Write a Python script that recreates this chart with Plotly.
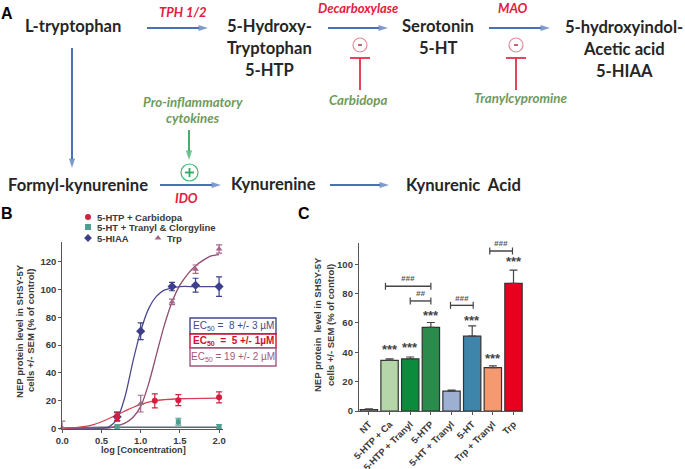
import plotly.graph_objects as go

W, H = 685, 469
BLUE_ARROW = "#4a70b5"
INK = "#2a2a2a"
AXC = "#555555"
LBL = "#3a3a3a"

# ---------- Panel B data ----------
hiaa_fit_x = [0, 0.5, 0.6, 0.7, 0.8, 0.9, 1.0, 1.1, 1.2, 1.3, 1.4, 1.5, 1.7, 2.0]
hiaa_fit_y = [0, 0.3, 1.5, 7, 23, 48, 70, 86, 95, 99.5, 101, 102, 102, 102]
trp_fit_x = [0, 0.6, 0.7, 0.8, 0.9, 1.0, 1.1, 1.2, 1.3, 1.4, 1.5, 1.6, 1.7, 1.8, 1.9, 2.0]
trp_fit_y = [0, 0.5, 2, 4, 8, 16, 32, 53, 74, 91, 103, 111, 117, 121, 124, 125]
carb_fit_x = [0, 0.2, 0.4, 0.5, 0.7, 0.85, 1.0, 1.18, 1.3, 1.48, 2.0]
carb_fit_y = [0, 1, 3, 5, 10, 14, 17.5, 20, 20.8, 21.5, 22]
ht_fit_x = [0, 0.5, 1.0, 1.5, 2.0]
ht_fit_y = [0.5, 1, 1, 1, 1]

hiaa_x = [0.7, 1.0, 1.4, 1.7, 2.0]
hiaa_y = [8.5, 70, 102, 103, 102]
hiaa_e = [3, 6, 3, 5, 7]
trp_x = [0, 0.7, 1.0, 1.4, 1.7, 2.0]
trp_y = [0.5, 9, 18, 91, 114.5, 129]
trp_e = [5, 3, 6, 2, 3, 3]
carb_x = [0.7, 1.18, 1.48, 2.0]
carb_y = [9, 20, 20.5, 22.5]
carb_e = [3, 5, 4, 4]
ht_x = [0.7, 1.48, 2.0]
ht_y = [1.5, 5, 1.5]
ht_e = [1, 2.5, 1.5]

# ---------- Panel C data ----------
cats = ["NT", "5-HTP + Ca", "5-HTP + Tranyl", "5-HTP", "5-HT + Tranyl", "5-HT", "Trp + Tranyl", "Trp"]
vals = [1, 34.5, 35.5, 57, 13.5, 51, 29.5, 87]
errs = [0.5, 1, 1.3, 3.3, 0.7, 7, 1.2, 9]
bar_cols = ["#ffffff", "#b4d6a8", "#0b8c3c", "#2b8b4c", "#9db0d2", "#3f85aa", "#f59a70", "#e8001f"]
star_idx = [1, 2, 3, 5, 6, 7]
star_y = [42, 43, 65, 62, 36, 102]
brackets = [(0.8, 3, 85, "###", 90), (2, 3, 75, "##", 80), (3.95, 5.05, 72, "###", 77), (5.85, 6.95, 109, "###", 114)]

# ---------- Panel A text ----------
nodes = [("L-tryptophan", 73, 26), ("5-Hydroxy-", 269, 26), ("Tryptophan", 269, 48), ("5-HTP", 269, 70),
         ("Serotonin", 438, 26), ("5-HT", 438, 48), ("5-hydroxyindol-", 624, 27), ("Acetic acid", 624, 49),
         ("5-HIAA", 624, 71), ("Formyl-kynurenine", 78, 185), ("Kynurenine", 273, 184), ("Kynurenic  Acid", 463, 185)]
enzymes = [("TPH 1/2", 183, 12), ("Decarboxylase", 358, 8), ("MAO", 513, 8), ("IDO", 186, 198)]
greens = [("Pro-inflammatory", 193, 102), ("cytokines", 193, 118), ("Carbidopa", 358, 100), ("Tranylcypromine", 521, 98)]
arrows = [(147, 28, 208, 28), (328, 28, 388, 28), (489, 28, 550, 28), (72, 48, 72, 168), (160, 185, 221, 185), (330, 185, 389, 185)]
inhibitors = [(360, 45), (516, 45)]

fig = go.Figure()
SANS = "Liberation Sans"


def fit(x, y, c, w=1.3):
    fig.add_trace(go.Scatter(x=x, y=y, mode="lines", line=dict(color=c, width=w, shape="spline", smoothing=0.8),
                             xaxis="x", yaxis="y", showlegend=False, hoverinfo="skip", cliponaxis=False))


def pts(x, y, e, c, sym, s=7):
    fig.add_trace(go.Scatter(x=x, y=y, mode="markers", marker=dict(color=c, size=s, symbol=sym),
                             error_y=dict(type="data", array=e, color=c, thickness=1.2, width=3),
                             xaxis="x", yaxis="y", showlegend=False, cliponaxis=False))


C_HIAA, C_TRP, C_CARB, C_HT = "#3d3f8c", "#a5668a", "#d0203f", "#4f9f90"
fit(ht_fit_x, ht_fit_y, "#5a6a70", 1.5)
fit(trp_fit_x, trp_fit_y, "#8f4a70")
fit(hiaa_fit_x, hiaa_fit_y, "#4d4a8c")
fit(carb_fit_x, carb_fit_y, "#d8404f")
pts(trp_x, trp_y, trp_e, C_TRP, "triangle-up", 6)
pts(ht_x, ht_y, ht_e, C_HT, "square", 5)
pts(hiaa_x, hiaa_y, hiaa_e, C_HIAA, "diamond", 7)
pts(carb_x, carb_y, carb_e, C_CARB, "circle", 6)

# Panel C
fig.add_trace(go.Bar(x=list(range(len(cats))), y=vals, width=0.84, marker=dict(color=bar_cols, line=dict(color="#333333", width=1.2)),
                     error_y=dict(type="data", array=errs, symmetric=False, arrayminus=[0] * 8, color="#444444", thickness=1.2, width=4),
                     xaxis="x2", yaxis="y2", showlegend=False))
for a, b, y, t, ty in brackets:
    fig.add_trace(go.Scatter(x=[a, b], y=[y, y], mode="lines+markers", line=dict(color="#444444", width=1.4),
                             marker=dict(symbol="line-ns", size=5, line=dict(color="#444444", width=1.2)),
                             xaxis="x2", yaxis="y2", showlegend=False))

ann = []


def T(text, x, y, size, color=INK, bold=True, italic=False, angle=0, family=SANS, xanchor="center"):
    s = text
    if bold:
        s = "<b>" + s + "</b>"
    if italic:
        s = "<i>" + s + "</i>"
    ann.append(dict(text=s, x=x, y=y, xref="x3", yref="y3", showarrow=False, xanchor=xanchor, yanchor="middle",
                    textangle=angle, font=dict(size=size, color=color, family=family)))


def flow(x0, y0, x1, y1, c, w=2):
    fig.add_trace(go.Scatter(x=[x0, x1], y=[y0, y1], mode="lines+markers", line=dict(color=c, width=w),
                             marker=dict(symbol="arrow", angleref="previous", size=[0, 10], color=c, line=dict(width=0)),
                             xaxis="x3", yaxis="y3", showlegend=False, hoverinfo="skip"))


for t, x, y in nodes:
    T(t, x, y, 16.6, color="#262626", family="Lato")
for t, x, y in enzymes:
    T(t, x, y, 13, color="#e0203c", italic=True, family="Lato")
for t, x, y in greens:
    T(t, x, y, 13.3, color="#6f9a5a", italic=True, family="Lato")
for x0, y0, x1, y1 in arrows:
    flow(x0, y0, x1, y1, BLUE_ARROW)
flow(189, 130, 189, 160, "#2fa860", 1.8)

shapes = []
RED = "#e0304a"
for cx, cy in inhibitors:
    shapes.append(dict(type="circle", xref="x3", yref="y3", x0=cx - 7, x1=cx + 7, y0=cy - 7, y1=cy + 7, line=dict(color="#e58a9a", width=1.2)))
    shapes.append(dict(type="line", xref="x3", yref="y3", x0=cx - 10, x1=cx + 10, y0=58, y1=58, line=dict(color=RED, width=1.8)))
    shapes.append(dict(type="line", xref="x3", yref="y3", x0=cx, x1=cx, y0=58, y1=90, line=dict(color=RED, width=1.8)))
    shapes.append(dict(type="line", xref="x3", yref="y3", x0=cx - 2, x1=cx + 2, y0=cy, y1=cy, line=dict(color="#b03040", width=1.5)))
shapes.append(dict(type="circle", xref="x3", yref="y3", x0=181, x1=198, y0=164, y1=181, line=dict(color="#3fb870", width=1.2)))
shapes.append(dict(type="line", xref="x3", yref="y3", x0=185, x1=194, y0=172.5, y1=172.5, line=dict(color="#2fa860", width=1.8)))
shapes.append(dict(type="line", xref="x3", yref="y3", x0=189.5, x1=189.5, y0=168, y1=177, line=dict(color="#2fa860", width=1.8)))

# panel letters
T("A", 7, 13, 16, color="#000000")
T("B", 7, 213, 16, color="#000000")
T("C", 304, 213, 16, color="#000000")

# Panel B legend
for t, x, y in [("5-HTP + Carbidopa", 95, 217), ("5-HT + Tranyl &amp; Clorgyline", 95, 227), ("5-HIAA", 95, 238), ("Trp", 165, 238)]:
    T(t, x, y, 9.5, color=LBL, xanchor="left")
for c, s, x, y in [(C_CARB, "circle", 88, 217), (C_HT, "square", 88, 227), (C_HIAA, "diamond", 88, 238), (C_TRP, "triangle-up", 158, 238)]:
    fig.add_trace(go.Scatter(x=[x], y=[y], mode="markers", marker=dict(color=c, symbol=s, size=6),
                             xaxis="x3", yaxis="y3", showlegend=False))
# Panel B titles
T("NEP protein level in SHSY-5Y", 19, 331, 9.6, color=LBL, angle=-90)
T("cells +/- SEM (% of control)", 30, 331, 9.6, color=LBL, angle=-90)
T("log [Concentration]", 143, 450, 9.2, color=LBL)

# EC50 boxes
for t, y0, y1, c, tc in [("EC<sub>50</sub> =  8 +/- 3 µM", 318, 334, "#3d4a8c", "#3d4a8c"),
                         ("EC<sub>50</sub>  =  5 +/- 1µM", 334, 348, "#c8102e", "#d01030"),
                         ("EC<sub>50</sub> = 19 +/- 2 µM", 348, 366, "#a05a80", "#a05a80")]:
    shapes.append(dict(type="rect", xref="x3", yref="y3", x0=190, x1=276, y0=y0, y1=y1, line=dict(color=c, width=1.4), fillcolor="#ffffff", layer="below"))
    T(t, 233, (y0 + y1) / 2, 10, color=tc, bold=(c == "#c8102e"))

# Panel C texts
T("NEP protein  level in SHSY-5Y", 317, 325, 9.5, color=LBL, angle=-90)
T("cells +/- SEM (% of control)", 330, 325, 9.5, color=LBL, angle=-90)
for i, y in zip(star_idx, star_y):
    ann.append(dict(text="<b>***</b>", x=i, y=y, xref="x2", yref="y2", showarrow=False, font=dict(size=13, color="#444444", family=SANS)))
for a, b, y, t, ty in brackets:
    ann.append(dict(text="<b><i>" + t + "</i></b>", x=(a + b) / 2, y=ty, xref="x2", yref="y2", showarrow=False,
                    font=dict(size=8, color="#555555", family=SANS)))

AX = dict(showgrid=False, zeroline=False, showline=True, linecolor=AXC, linewidth=1.3, ticks="outside", ticklen=3, automargin=False,
          tickcolor=AXC, tickwidth=1.2, tickfont=dict(size=9.5, color=LBL, family=SANS))

fig.update_layout(
    width=W, height=H, margin=dict(l=0, r=0, t=0, b=0), paper_bgcolor="white", plot_bgcolor="rgba(0,0,0,0)",
    showlegend=False, autosize=False,
    xaxis=dict(AX, domain=[62.3 / W, 223 / W], range=[0, 2.05], tickvals=[0, 0.5, 1, 1.5, 2], ticktext=["<b>0.0</b>", "<b>0.5</b>", "<b>1.0</b>", "<b>1.5</b>", "<b>2.0</b>"], anchor="y"),
    yaxis=dict(AX, domain=[1 - 428.7 / H, 1 - 242 / H], range=[0, 134], tickvals=[0, 20, 40, 60, 80, 100, 120], ticktext=["<b>%d</b>" % v for v in [0, 20, 40, 60, 80, 100, 120]], anchor="x"),
    xaxis2=dict(AX, domain=[359 / W, 523 / W], range=[-0.48, 7.46], tickvals=list(range(8)), ticktext=["<b>" + c + "</b>" for c in cats], tickangle=-45, anchor="y2", tickfont=dict(size=9.4, color=LBL, family=SANS)),
    yaxis2=dict(AX, domain=[1 - 411 / H, 1 - 242.7 / H], range=[0, 114.7], tickvals=[0, 20, 40, 60, 80, 100], ticktext=["<b>%d</b>" % v for v in [0, 20, 40, 60, 80, 100]], anchor="x2"),
    xaxis3=dict(domain=[0, 1], range=[0, W], visible=False, anchor="y3", fixedrange=True, automargin=False),
    yaxis3=dict(domain=[0, 1], range=[H, 0], visible=False, anchor="x3", fixedrange=True, automargin=False),
    annotations=ann, shapes=shapes,
)
fig.write_html("out.html", config=dict(displayModeBar=False), post_script="document.body.style.margin='0';document.documentElement.style.overflow='hidden';")
